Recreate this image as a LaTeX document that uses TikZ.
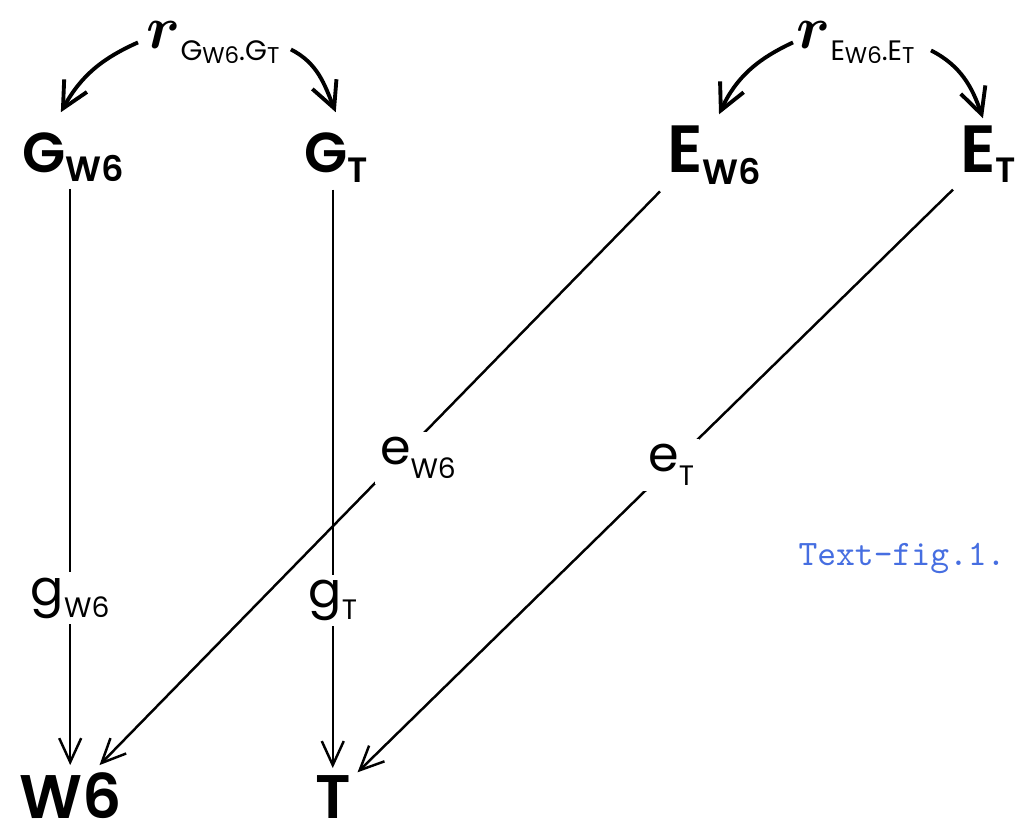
\documentclass[tikz,border=0pt]{standalone}
\usepackage{fontspec}
\setmainfont{Poppins}[BoldFont={Poppins SemiBold}]
\usetikzlibrary{arrows.meta}

\definecolor{figblue}{RGB}{70,110,225}
\newcommand{\fs}[1]{\fontsize{#1}{#1}\selectfont}
\newcommand{\low}[3]{\raisebox{-#1}{\fs{#2}#3}}

\begin{document}
\begin{tikzpicture}[
			>={Straight Barb[length=2.4mm,width=2.2mm]},
			bignode/.style={
				inner sep=0pt,
				outer sep=2pt,
				font=\bfseries,
				anchor=base west
			},
			rlabel/.style={
				inner sep=0pt,
				outer sep=1pt,
				anchor=base west
			},
			lbl/.style={fill=white, inner sep=1.5pt},
			link/.style={->, line width=0.7pt},
			swing/.style={->, line width=1.1pt, >={Straight Barb[length=2.6mm,width=2.6mm]}}
			]
			
			\useasboundingbox (0,0) rectangle (10.21,8.27);
			
			%--------------------------------------------------
			% Top Row
			%--------------------------------------------------
			
			\node[bignode] (gw) at (0.15,6.55) {\fs{16}G\low{2.8pt}{10}{W6}};
			
			\node[bignode] (gt) at (2.97,6.55) {\fs{16}G\low{3pt}{10}{T}};
			
			\node[bignode] (ew) at (6.60,6.55) {\fs{19}E\low{3.5pt}{10}{W6}};
			
			\node[bignode] (et) at (9.53,6.55) {\fs{19}E\low{3pt}{10}{T}};
			
			%--------------------------------------------------
			% Bottom Row
			%--------------------------------------------------
			
			\node[bignode] (w6) at (0.12,0.09) {\fs{17.5}W6};
			
			\node[bignode] (tt) at (3.08,0.09) {\fs{17.5}T};
			
			%--------------------------------------------------
			% Labels
			%--------------------------------------------------
			
			\node[rlabel] (rg) at (1.43,7.79)
			{\fs{16}{\boldmath$r$}\low{3.5pt}{8}{G\low{1pt}{6.5}{W6}.G\low{1pt}{6.5}{T}}};
			
			\node[rlabel] (re) at (7.93,7.79)
			{\fs{16}{\boldmath$r$}\low{3.5pt}{8}{E\low{1pt}{6.5}{W6}.E\low{1pt}{6.5}{T}}};
			
			\node[rlabel, text=figblue, font=\ttfamily\fs{10.2}] (fig) at (7.95,2.62) {Text-fig.1.};
			
			%--------------------------------------------------
			% Flow
			%--------------------------------------------------
			
			\draw[swing]
			([xshift=-0.5mm]rg.west) to[out=204,in=61] ([xshift=-1.2mm,yshift=1.3mm]gw.north);
			
			\draw[swing]
			([xshift=0.8mm,yshift=-0.7mm]rg.east) to[out=-27,in=112] ([yshift=1.3mm]gt.north);
			
			\draw[swing]
			(re.west) to[out=205,in=65] ([xshift=0.5mm,yshift=0.4mm]ew.north);
			
			\draw[swing]
			([xshift=1.3mm,yshift=-0.8mm]re.east) to[out=-27,in=109] ([xshift=-0.5mm]et.north);
			
			\draw[link]
			(w6.north |- gw.south) -- node[lbl,pos=0.71]{\fs{14}g\low{3.5pt}{8}{W6}} (w6.north);
			
			\draw[link]
			(tt.north |- gt.south) -- node[lbl,pos=0.71]{\fs{14}g\low{3.5pt}{8}{T}} (tt.north);
			
			\draw[link]
			(ew.south west) -- node[lbl,pos=0.464,xshift=1.8mm]{\fs{14}e\low{4pt}{8}{W6}} (w6);
			
			\draw[link]
			(et.south west) -- node[lbl,pos=0.473]{\fs{14}e\low{4pt}{8}{T}} (tt);
			
		\end{tikzpicture}
\end{document}
